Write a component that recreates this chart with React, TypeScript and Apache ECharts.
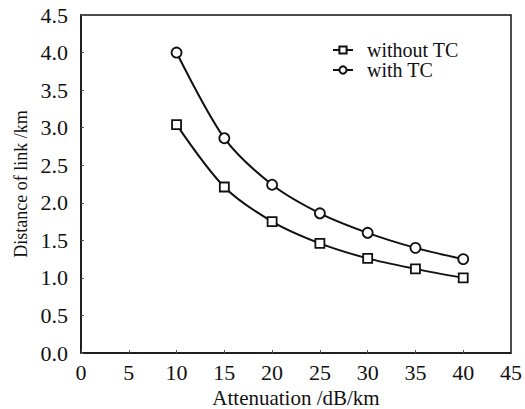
import React, { useEffect, useRef } from "react";
import * as echarts from "echarts";

const attenuation = [10, 15, 20, 25, 30, 35, 40];
const withoutTC = [3.04, 2.21, 1.75, 1.46, 1.26, 1.12, 1.0];
const withTC = [4.0, 2.86, 2.24, 1.86, 1.6, 1.4, 1.25];
const seriesNames = ["without TC", "with TC"];

const FONT = "'Liberation Serif', 'DejaVu Serif', serif";

export default function App() {
  const ref = useRef<HTMLDivElement>(null);
  useEffect(() => {
    if (!ref.current) return;
    const chart = echarts.init(ref.current, null, { renderer: "svg" });
    const mk = (ys: number[]) => attenuation.map((x, i) => [x, ys[i]]);
    chart.setOption({
      animation: false,
      backgroundColor: "#ffffff",
      textStyle: { fontFamily: FONT, color: "#111" },
      grid: {
        left: 81, top: 15, right: 14, bottom: 56,
        outerBoundsMode: "none",
        containLabel: false,
        show: true, borderColor: "#111", borderWidth: 1.5, backgroundColor: "transparent",
      },
      legend: {
        data: seriesNames,
        orient: "vertical",
        left: 327,
        top: 35,
        itemWidth: 20,
        itemHeight: 9,
        itemGap: 0,
        textStyle: { fontFamily: FONT, fontSize: 20, color: "#111", lineHeight: 20, padding: [0, 0, 0, 9] },
      },
      xAxis: {
        type: "value",
        min: 0,
        max: 45,
        interval: 5,
        name: "Attenuation /dB/km",
        nameLocation: "middle",
        nameGap: 34,
        nameTextStyle: { fontFamily: FONT, fontSize: 21, color: "#111", lineHeight: 21 },
        axisLine: { show: true, lineStyle: { color: "#111", width: 1.5 } },
        axisTick: { show: true, inside: true, length: 3, lineStyle: { color: "#555" } },
        axisLabel: { fontFamily: FONT, fontSize: 22, color: "#111", margin: 8 },
        splitLine: { show: false },
      },
      yAxis: {
        type: "value",
        min: 0,
        max: 4.5,
        interval: 0.5,
        name: "Distance of link /km",
        nameLocation: "middle",
        nameGap: 51,
        nameTextStyle: { fontFamily: FONT, fontSize: 18, color: "#111" },
        axisLine: { show: true, lineStyle: { color: "#111", width: 1.5 } },
        axisTick: { show: true, inside: true, length: 3, lineStyle: { color: "#555" } },
        axisLabel: { fontFamily: FONT, fontSize: 22, color: "#111", margin: 13, formatter: (v: number) => v.toFixed(1) },
        splitLine: { show: false },
      },
      series: [
        {
          name: seriesNames[0],
          type: "line",
          data: mk(withoutTC),
          smooth: 0.3,
          symbol: "rect",
          symbolSize: 9,
          itemStyle: { color: "#fff", borderColor: "#111", borderWidth: 1.8 },
          lineStyle: { color: "#111", width: 2 },
        },
        {
          name: seriesNames[1],
          type: "line",
          data: mk(withTC),
          smooth: 0.3,
          symbol: "circle",
          symbolSize: 10,
          itemStyle: { color: "#fff", borderColor: "#111", borderWidth: 1.8 },
          lineStyle: { color: "#111", width: 2 },
        },
      ],
    });
    return () => chart.dispose();
  }, []);
  return <div ref={ref} style={{ width: 525, height: 409, position: "absolute", left: 0, top: 0 }} />;
}
